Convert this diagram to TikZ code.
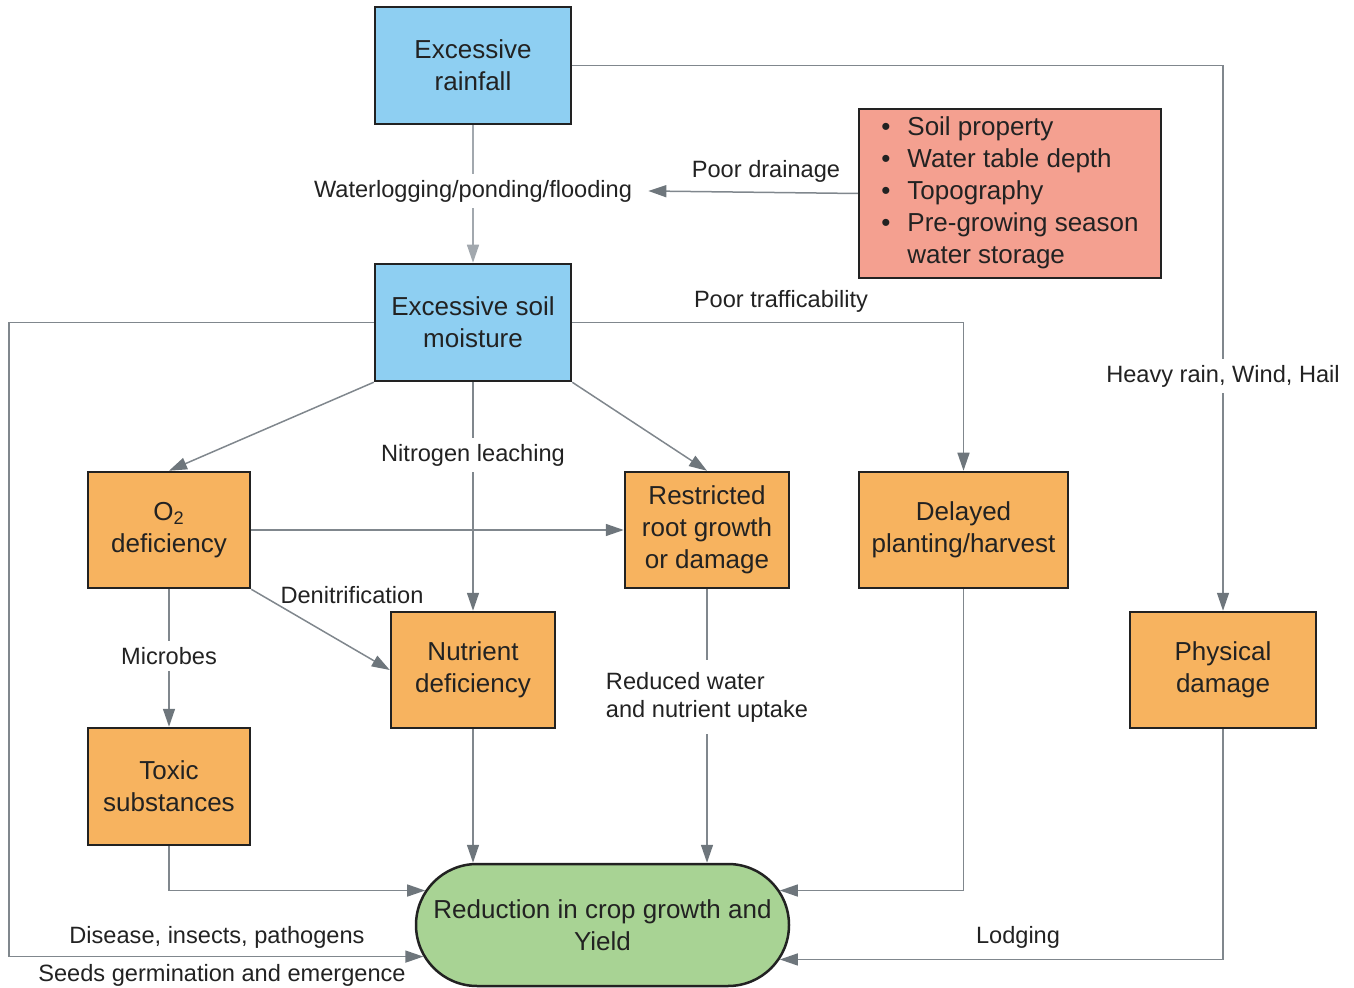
\documentclass[tikz,border=0pt]{standalone}
\usepackage{fontspec}
\setmainfont{Liberation Sans}
\usetikzlibrary{arrows.meta,shapes.misc,calc}
\definecolor{cblue}{HTML}{8ECFF2}
\definecolor{cred}{HTML}{F4A090}
\definecolor{corange}{HTML}{F7B35F}
\definecolor{cgreen}{HTML}{A8D394}
\definecolor{cline}{HTML}{80878D}
\definecolor{ctip}{HTML}{6E767C}
\definecolor{clight}{HTML}{A2A8AE}
\definecolor{cborder}{HTML}{222222}
\definecolor{ctext}{HTML}{222222}
\begin{document}
\begin{tikzpicture}[x=0.5pt,y=-0.5pt,
  box/.style={draw=cborder, line width=1.25pt, inner sep=0pt, align=center,
    font=\fontsize{13}{16}\selectfont, text=ctext},
  plain/.style={draw=cline, line width=0.75pt},
  conn/.style={plain, -{Triangle[length=9pt,width=6pt,color=ctip]}},
  lbl/.style={font=\fontsize{11.8}{14}\selectfont, text=ctext, inner sep=1pt},
  lblw/.style={lbl, fill=white, inner xsep=2pt, inner ysep=3pt}
]
\useasboundingbox (0,0) rectangle (1354,988);

% nodes
\node[box, fill=cblue, minimum width=98pt, minimum height=58.5pt] (rain) at (473,65.5) {Excessive\\rainfall};
\node[box, fill=cblue, minimum width=98pt, minimum height=58.5pt] (soil) at (473,322.5) {Excessive soil\\moisture};
\node[box, fill=cred, minimum width=151pt, minimum height=84.5pt] (factors) at (1010,193.5)
  {\begin{tabular}{@{}l@{\hspace{8.5pt}}l@{}}
   \textbullet & Soil property\\
   \textbullet & Water table depth\\
   \textbullet & Topography\\
   \textbullet & Pre-growing season\\
               & water storage
   \end{tabular}};
\node[box, fill=corange, minimum width=81pt, minimum height=58pt] (o2) at (169,530) {O\textsubscript{2}\\deficiency};
\node[box, fill=corange, minimum width=82pt, minimum height=58pt] (root) at (707,530) {Restricted\\root growth\\or damage};
\node[box, fill=corange, minimum width=104.5pt, minimum height=58pt] (delay) at (963.5,530) {Delayed\\planting/harvest};
\node[box, fill=corange, minimum width=82pt, minimum height=58pt] (nutr) at (473,670) {Nutrient\\deficiency};
\node[box, fill=corange, minimum width=81pt, minimum height=58.5pt] (toxic) at (169,786.5) {Toxic\\substances};
\node[box, fill=corange, minimum width=93pt, minimum height=58pt] (phys) at (1223,670) {Physical\\damage};
\node[box, fill=cgreen, rounded rectangle, minimum width=186.5pt, minimum height=61pt] (yield) at (602.5,925) {Reduction in crop growth and\\Yield};

% label nodes on lines
\node[lbl, fill=white, inner xsep=8pt, inner ysep=3pt] (wl) at (473,191) {Waterlogging/ponding/flooding};
\node[lblw] (hr) at (1223,376) {Heavy rain, Wind, Hail};
\node[lblw] (nl) at (473,455) {Nitrogen leaching};
\node[lblw] (mic) at (169,656) {Microbes};
\node[lblw, align=left, inner ysep=6pt] (rw) at (707,697) {Reduced water\\and nutrient uptake};
\coordinate (lx) at (9,0);

% side labels
\node[lbl] (pd) at (766,171) {Poor drainage};
\node[lbl] (pt) at (781,301) {Poor trafficability};
\node[lbl] (den) at (352,595) {Denitrification};
\node[lbl] (dis) at (217,937) {Disease, insects, pathogens};
\node[lbl] (seed) at (222,975) {Seeds germination and emergence};
\node[lbl] (lod) at (1018,937) {Lodging};

% connectors
\draw[plain, draw=clight] (rain) -- (wl);
\draw[conn, draw=clight, -{Triangle[length=9pt,width=6pt,color=clight]}] (wl) -- (soil);
\draw[conn] (factors.west) -- (wl.east);
\draw[plain] (rain.east) -| (hr.north);
\draw[conn] (hr.south) -- (phys.north);
\draw[conn] (soil.east) -| (delay.north);
\draw[conn] (soil.west) -| (lx |- yield.190.6) -- (yield.190.6);
\draw[conn] (soil.south west) -- (o2.north);
\draw[plain] (soil.south) -- (nl);
\draw[conn] (nl) -- (nutr.north);
\draw[conn] (soil.south east) -- (root.north);
\draw[conn] (o2.east) -- (root.west);
\draw[conn] (o2.south east) -- (nutr.west);
\draw[plain] (o2.south) -- (mic);
\draw[conn] (mic) -- (toxic.north);
\draw[conn] (toxic.south) |- (yield.169.1);
\draw[conn] (nutr.south) -- (nutr.south |- yield.north);
\draw[plain] (root.south) -- (rw);
\draw[conn] (rw) -- (root.south |- yield.north);
\draw[conn] (delay.south) |- (yield.11.2);
\draw[conn] (phys.south) |- (yield.349.4);
\end{tikzpicture}
\end{document}
